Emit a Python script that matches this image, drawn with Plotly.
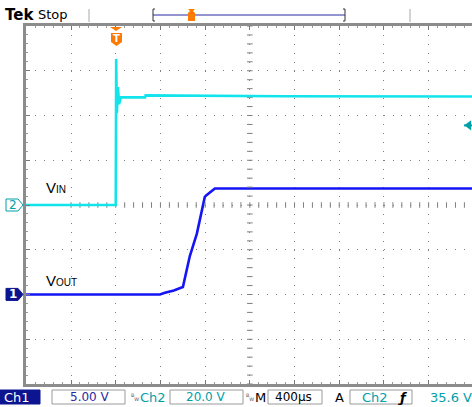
import plotly.graph_objects as go

# ---------------- data (time in µs relative to trigger, volts) ----------------
ch1_t = [-803, 396, 440, 520, 601, 663, 726, 779, 797, 812, 857, 887, 3188]
ch1_v = [0.0, 0.0, 0.2, 0.45, 0.84, 4.3, 6.8, 9.9, 10.9, 11.1, 11.5, 11.85, 11.85]

ch2_t = [-803, 0, 4, 10, 20, 30, 45, 262, 268, 1500, 3188]
ch2_v = [0.0, 0.0, 65.3, 41.0, 52.7, 45.0, 48.1, 48.1, 49.0, 48.6, 48.5]

CH1_VDIV = 5.0      # V/div
CH2_VDIV = 20.0     # V/div
T_DIV = 400.0       # µs/div
TRIG_LEVEL = 35.6   # V on Ch2
status_labels = ["Ch1", "5.00 V", "Ch2", "20.0 V", "M", "400µs", "A", "Ch2", "35.6 V"]

# ---------------- geometry ----------------
W, H = 472, 407
PL, PT, PW, PH = 26, 26, 446, 358
def px(x):
    return (x - PL) / PW
def py(y):
    return (PT + PH - y) / PH

CYAN = "#12e4ec"
TEAL = "#00a0a8"
BLUE = "#1414f5"
NAVY = "#0c1490"
ORANGE = "#ff7a00"
GRID = "#808080"

t0 = -803
t1 = t0 + PW / 44.7 * T_DIV

fig = go.Figure()

# center crosshair tick marks
tc = 1200
step = T_DIV / 5
xs = [m * step for m in range(-5, 45)]
xs = [v for v in xs if t0 <= v <= t1]
fig.add_trace(go.Scatter(x=xs, y=[0] * len(xs), yaxis="y2", mode="markers",
                         marker=dict(symbol="line-ns", size=4, line=dict(color=GRID, width=1)),
                         hoverinfo="skip", showlegend=False))
ys = [i * CH2_VDIV / 5 for i in range(-20, 21)]
fig.add_trace(go.Scatter(x=[tc] * len(ys), y=ys, yaxis="y2", mode="markers",
                         marker=dict(symbol="line-ew", size=4, line=dict(color=GRID, width=1)),
                         hoverinfo="skip", showlegend=False))

fig.add_trace(go.Scatter(x=ch2_t, y=ch2_v, yaxis="y2", mode="lines",
                         line=dict(color=CYAN, width=2.6), hoverinfo="skip", showlegend=False))
fig.add_trace(go.Scatter(x=ch1_t, y=ch1_v, yaxis="y", mode="lines",
                         line=dict(color=BLUE, width=2.6), hoverinfo="skip", showlegend=False))

# trigger level arrow on right (Ch2 level)
fig.add_trace(go.Scatter(x=[t1 - 28], y=[TRIG_LEVEL], yaxis="y2", mode="markers",
                         marker=dict(symbol="triangle-left", size=9, color=TEAL),
                         hoverinfo="skip", showlegend=False, cliponaxis=False))

shapes = []
ann = []

y_tr = 205 - TRIG_LEVEL / CH2_VDIV * 44.7
shapes.append(dict(type="line", xref="paper", yref="paper", x0=px(464), x1=px(472),
                   y0=py(y_tr), y1=py(y_tr), line=dict(color=TEAL, width=2)))

# header: Tek Stop
ann.append(dict(text="<b>Tek</b>", x=px(3), y=py(15), xref="paper", yref="paper",
                xanchor="left", yanchor="middle", showarrow=False,
                font=dict(family="DejaVu Sans", size=15, color="black")))
ann.append(dict(text="Stop", x=px(36), y=py(15), xref="paper", yref="paper",
                xanchor="left", yanchor="middle", showarrow=False,
                font=dict(family="DejaVu Sans", size=13, color="black")))
for gx in (89, 410):
    shapes.append(dict(type="line", xref="paper", yref="paper", x0=px(gx), x1=px(gx),
                       y0=py(9), y1=py(22), line=dict(color="#a8a8a8", width=1)))
shapes.append(dict(type="line", xref="paper", yref="paper", x0=px(153), x1=px(345),
                   y0=py(15), y1=py(15), line=dict(color="#2828a0", width=1)))
for bx, d in ((153, 2), (345, -2)):
    shapes.append(dict(type="path", xref="paper", yref="paper",
                       path=f"M {px(bx+d)},{py(9)} L {px(bx)},{py(9)} L {px(bx)},{py(21)} L {px(bx+d)},{py(21)}",
                       line=dict(color="#303030", width=1)))
shapes.append(dict(type="path", xref="paper", yref="paper",
                   path=f"M {px(188)},{py(9)} L {px(195)},{py(9)} L {px(193)},{py(11)} L {px(195)},{py(13)} "
                        f"L {px(195)},{py(21)} L {px(188)},{py(21)} L {px(188)},{py(13)} L {px(190)},{py(11)} Z",
                   fillcolor=ORANGE, line=dict(color=ORANGE, width=0)))

# trigger position marker
shapes.append(dict(type="path", xref="paper", yref="paper",
                   path=f"M {px(110)},{py(27)} L {px(122)},{py(27)} L {px(116)},{py(31)} Z",
                   fillcolor=ORANGE, line=dict(width=0)))
shapes.append(dict(type="path", xref="paper", yref="paper",
                   path=f"M {px(111)},{py(33)} L {px(122)},{py(33)} L {px(122)},{py(42)} L {px(116.5)},{py(46)} "
                        f"L {px(111)},{py(42)} Z",
                   fillcolor=ORANGE, line=dict(width=0)))
ann.append(dict(text="<b>T</b>", x=px(116.5), y=py(38.5), xref="paper", yref="paper",
                xanchor="center", yanchor="middle", showarrow=False,
                font=dict(family="DejaVu Sans", size=10, color="white")))

# ground markers
y2g = 205
shapes.append(dict(type="path", xref="paper", yref="paper",
                   path=f"M {px(6)},{py(y2g-6)} L {px(18)},{py(y2g-6)} L {px(23)},{py(y2g)} "
                        f"L {px(18)},{py(y2g+6)} L {px(6)},{py(y2g+6)} Z",
                   fillcolor="white", line=dict(color=TEAL, width=1)))
ann.append(dict(text="2", x=px(12.5), y=py(y2g), xref="paper", yref="paper",
                xanchor="center", yanchor="middle", showarrow=False,
                font=dict(family="DejaVu Sans", size=12, color=TEAL)))
y1g = 205 + 2 * 44.7
shapes.append(dict(type="path", xref="paper", yref="paper",
                   path=f"M {px(6)},{py(y1g-6)} L {px(18)},{py(y1g-6)} L {px(23)},{py(y1g)} "
                        f"L {px(18)},{py(y1g+6)} L {px(6)},{py(y1g+6)} Z",
                   fillcolor=NAVY, line=dict(color=NAVY, width=1)))
ann.append(dict(text="<b>1</b>", x=px(12.5), y=py(y1g), xref="paper", yref="paper",
                xanchor="center", yanchor="middle", showarrow=False,
                font=dict(family="DejaVu Sans", size=12, color="white")))

# channel labels
ann.append(dict(text="V<span style='font-size:10px'>IN</span>", x=px(44), y=py(194), xref="paper", yref="paper",
                xanchor="left", yanchor="bottom", showarrow=False, yshift=-4,
                font=dict(family="Liberation Sans", size=15, color="black")))
ann.append(dict(text="V<span style='font-size:10px'>OUT</span>", x=px(44), y=py(287), xref="paper", yref="paper",
                xanchor="left", yanchor="bottom", showarrow=False, yshift=-4,
                font=dict(family="Liberation Sans", size=15, color="black")))

# ---------------- status bar ----------------
SB_Y0, SB_Y1 = 390, 404
ym = py((SB_Y0 + SB_Y1) / 2)
def box(x0, x1, fill="white", line="#9a9a9a"):
    shapes.append(dict(type="rect", xref="paper", yref="paper", x0=px(x0), x1=px(x1),
                       y0=py(SB_Y1), y1=py(SB_Y0), fillcolor=fill, line=dict(color=line, width=1)))
def txt(s, x, color, anchor="left", size=12, bold=False):
    ann.append(dict(text=(f"<b>{s}</b>" if bold else s), x=px(x), y=ym, xref="paper", yref="paper",
                    xanchor=anchor, yanchor="middle", showarrow=False,
                    font=dict(family="DejaVu Sans", size=size, color=color)))

box(0, 40, fill=NAVY, line=NAVY)
txt(status_labels[0], 2, "white", size=13)
box(52, 125)
txt(status_labels[1], 68, "#2a2aa0")
txt("<sup>B</sup><sub>W</sub>", 129, "#555555", size=7)
txt(status_labels[2], 138, TEAL, size=13)
box(170, 243)
txt(status_labels[3], 184, TEAL)
txt("<sup>B</sup><sub>W</sub>", 244, "#555555", size=7)
txt(status_labels[4], 253, "black", size=13)
box(268, 322)
txt(status_labels[5], 273, "black")
txt(status_labels[6], 333, "black", size=13)
box(350, 412)
txt(status_labels[7], 360, TEAL, size=13)
txt("<i>ƒ</i>", 396, "black", size=13, bold=True)
txt(status_labels[8], 428, TEAL, size=13)

fig.update_layout(
    width=W, height=H,
    margin=dict(l=PL, r=W - PL - PW, t=PT, b=H - PT - PH, pad=0),
    paper_bgcolor="white", plot_bgcolor="white",
    showlegend=False,
    xaxis=dict(range=[t0, t1], dtick=T_DIV, tick0=0, showgrid=True, gridcolor=GRID, gridwidth=1,
               griddash="1px,7.94px", zeroline=False, showticklabels=False,
               showline=True, linecolor="#8c8c8c", linewidth=3, mirror="ticks",
               ticks="inside", ticklen=4, tickcolor="#777777",
               minor=dict(dtick=T_DIV / 5, ticks="inside", ticklen=2, tickcolor="#999999", showgrid=False)),
    yaxis=dict(range=[-2 * CH1_VDIV, 6 * CH1_VDIV], dtick=CH1_VDIV, tick0=0, showgrid=True,
               gridcolor=GRID, gridwidth=1, griddash="1px,7.94px", zeroline=False,
               showticklabels=False, showline=True, linecolor="#8c8c8c", linewidth=3,
               ticks="inside", ticklen=4, tickcolor="#777777",
               minor=dict(dtick=CH1_VDIV / 5, ticks="inside", ticklen=2, tickcolor="#999999", showgrid=False)),
    yaxis2=dict(range=[-4 * CH2_VDIV, 4 * CH2_VDIV], overlaying="y", showgrid=False,
                zeroline=False, showticklabels=False, showline=False, ticks=""),
    shapes=shapes, annotations=ann,
)

fig.write_html("out.html", config={"displayModeBar": False},
               post_script="document.body.style.margin='0';document.body.style.overflow='hidden';")
